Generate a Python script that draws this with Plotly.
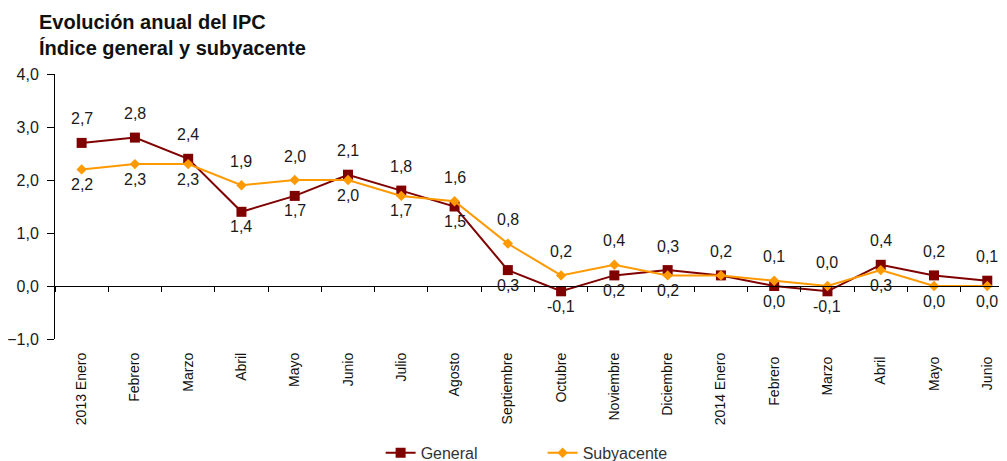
import plotly.graph_objects as go

categories = ["2013 Enero", "Febrero", "Marzo", "Abril", "Mayo", "Junio", "Julio", "Agosto",
              "Septiembre", "Octubre", "Noviembre", "Diciembre", "2014 Enero", "Febrero ",
              "Marzo ", "Abril ", "Mayo ", "Junio "]
general = [2.7, 2.8, 2.4, 1.4, 1.7, 2.1, 1.8, 1.5, 0.3, -0.1, 0.2, 0.3, 0.2, 0.0, -0.1, 0.4, 0.2, 0.1]
subyacente = [2.2, 2.3, 2.3, 1.9, 2.0, 2.0, 1.7, 1.6, 0.8, 0.2, 0.4, 0.2, 0.2, 0.1, 0.0, 0.3, 0.0, 0.0]
# label placement: 1 = above, -1 = below, 0 = hidden
general_pos = [1, 1, 1, -1, -1, 1, 1, -1, -1, -1, -1, 1, 1, -1, -1, 1, 1, 1]
sub_pos = [-1, -1, -1, 1, 1, -1, -1, 1, 1, 1, 1, -1, 0, 1, 1, -1, -1, -1]

RED = "#800000"
ORANGE = "#FF9900"
FONT = "Liberation Sans, Arial, sans-serif"

fig = go.Figure()
fig.add_trace(go.Scatter(x=categories, y=general, name="General", mode="lines+markers",
                         line=dict(color=RED, width=2),
                         marker=dict(symbol="square", size=10, color=RED)))
fig.add_trace(go.Scatter(x=categories, y=subyacente, name="Subyacente", mode="lines+markers",
                         line=dict(color=ORANGE, width=2),
                         marker=dict(symbol="diamond", size=8, color=ORANGE)))

def fmt(v):
    return f"{v:.1f}".replace(".", ",")

for vals, pos in ((general, general_pos), (subyacente, sub_pos)):
    for c, v, p in zip(categories, vals, pos):
        if p == 0:
            continue
        fig.add_annotation(x=c, y=v, text=fmt(v), showarrow=False,
                           yshift=24 if p > 0 else -15,
                           font=dict(family=FONT, size=16, color="#1a1a1a"))

fig.add_annotation(xref="paper", yref="paper", x=-0.019, y=1.245, xanchor="left", yanchor="top",
                   text="<b>Evolución anual del IPC<br>Índice general y subyacente</b>",
                   showarrow=False, align="left",
                   font=dict(family=FONT, size=20, color="#111111"))

fig.update_layout(
    width=999, height=453,
    margin=dict(l=47, r=0, t=66, b=122),
    paper_bgcolor="white", plot_bgcolor="white",
    separators=",.",
    font=dict(family=FONT, size=15, color="#1a1a1a"),
    showlegend=True,
    legend=dict(orientation="h", xref="container", yref="container",
                x=0.373, xanchor="left", y=0.018, yanchor="middle",
                font=dict(family=FONT, size=16, color="#333333"),
                traceorder="normal", entrywidth=117, entrywidthmode="pixels",
                tracegroupgap=0),
    xaxis=dict(type="category", range=[-0.5, 17.37], showline=False, showgrid=False,
               ticks="", tickangle=-90, ticklabelstandoff=10, automargin=False,
               tickfont=dict(family=FONT, size=14, color="#111111")),
    xaxis2=dict(type="category", overlaying="x", anchor="free", position=0.2,
                matches="x", showline=True, linecolor="#000000", linewidth=1,
                ticks="outside", ticklen=5, tickcolor="#000000", tickson="boundaries",
                showticklabels=False, showgrid=False, automargin=False),
    yaxis=dict(range=[-1, 4], dtick=1, tickformat=".1f", showline=True, linecolor="#000000",
               linewidth=1, ticks="outside", ticklen=7, tickcolor="#000000",
               showgrid=False, zeroline=False, automargin=False, ticklabelstandoff=5,
               tickfont=dict(family=FONT, size=16, color="#1a1a1a")),
)
# hidden trace to display the zero-line axis (xaxis2)
fig.add_trace(go.Scatter(x=categories, y=[None] * len(categories), xaxis="x2",
                         showlegend=False, hoverinfo="skip"))

fig.write_html("out.html")
